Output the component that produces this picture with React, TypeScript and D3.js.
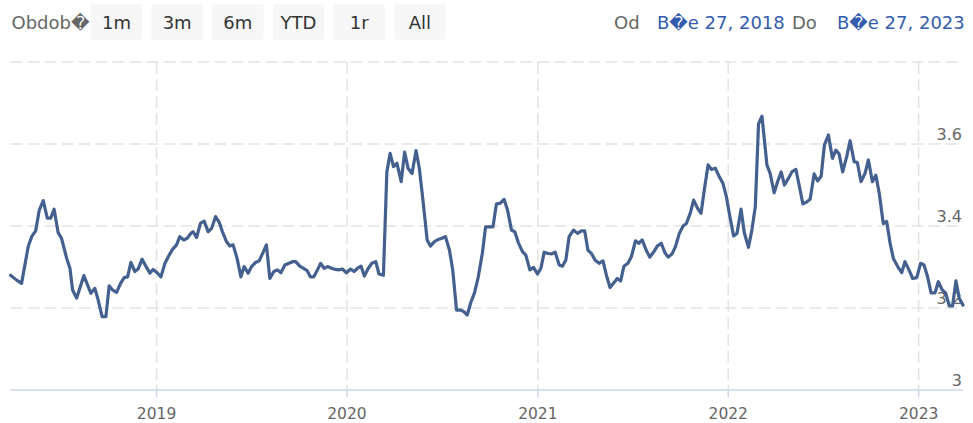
import React from 'react';
import * as d3 from 'd3';

const W = 973;
const H = 423;

const rangeLabel = 'Obdob\uFFFD';
const buttonLabels = ['1m', '3m', '6m', 'YTD', '1r', 'All'];
const fromLabel = 'Od';
const toLabel = 'Do';
const fromDateText = 'B\uFFFDe 27, 2018';
const toDateText = 'B\uFFFDe 27, 2023';

const yGridTicks = [3.2, 3.4, 3.6, 3.8];
const yLabelTicks = [3, 3.2, 3.4, 3.6];
const xTickYears = [2019, 2020, 2021, 2022, 2023];

// dates as decimal years
const dates = [
  2018.233, 2018.265, 2018.291, 2018.326, 2018.344, 2018.365, 2018.384, 2018.405, 2018.426, 2018.444,
  2018.462, 2018.483, 2018.501, 2018.528, 2018.545, 2018.559, 2018.580, 2018.597, 2018.618, 2018.638,
  2018.655, 2018.676, 2018.693, 2018.714, 2018.734, 2018.751, 2018.769, 2018.790, 2018.811, 2018.830,
  2018.848, 2018.865, 2018.886, 2018.903, 2018.924, 2018.944, 2018.965, 2018.982,
  2019.003, 2019.023, 2019.044, 2019.065, 2019.084, 2019.105, 2019.122, 2019.143, 2019.161, 2019.180,
  2019.192, 2019.210, 2019.231, 2019.250, 2019.271, 2019.289, 2019.310, 2019.329, 2019.346, 2019.367,
  2019.385, 2019.402, 2019.423, 2019.443, 2019.460, 2019.481, 2019.499, 2019.520, 2019.539, 2019.556,
  2019.577, 2019.595, 2019.616, 2019.635, 2019.653, 2019.674, 2019.695, 2019.714, 2019.731, 2019.752,
  2019.770, 2019.791, 2019.808, 2019.826, 2019.845, 2019.862, 2019.880, 2019.898, 2019.919, 2019.940,
  2019.957, 2019.976, 2019.997,
  2020.019, 2020.037, 2020.056, 2020.074, 2020.091, 2020.112, 2020.130, 2020.151, 2020.168, 2020.191,
  2020.209, 2020.226, 2020.244, 2020.262, 2020.284, 2020.302, 2020.320, 2020.341, 2020.362, 2020.379,
  2020.398, 2020.420, 2020.437, 2020.458, 2020.477, 2020.498, 2020.516, 2020.537, 2020.554, 2020.574,
  2020.595, 2020.612, 2020.630, 2020.647, 2020.668, 2020.688, 2020.709, 2020.726, 2020.744, 2020.765,
  2020.783, 2020.802, 2020.823, 2020.841, 2020.862, 2020.879, 2020.898, 2020.920, 2020.937, 2020.958,
  2020.977, 2020.998,
  2021.016, 2021.033, 2021.054, 2021.073, 2021.091, 2021.112, 2021.129, 2021.147, 2021.164, 2021.187,
  2021.208, 2021.229, 2021.246, 2021.263, 2021.283, 2021.300, 2021.321, 2021.342, 2021.360, 2021.379,
  2021.396, 2021.417, 2021.435, 2021.452, 2021.473, 2021.491, 2021.513, 2021.530, 2021.548, 2021.569,
  2021.588, 2021.609, 2021.627, 2021.648, 2021.667, 2021.684, 2021.705, 2021.723, 2021.743, 2021.763,
  2021.780, 2021.801, 2021.818, 2021.839, 2021.857, 2021.874, 2021.894, 2021.911, 2021.932, 2021.953,
  2021.972, 2021.990,
  2022.007, 2022.028, 2022.046, 2022.067, 2022.084, 2022.106, 2022.124, 2022.142, 2022.159, 2022.177,
  2022.203, 2022.220, 2022.241, 2022.259, 2022.278, 2022.295, 2022.316, 2022.334, 2022.355, 2022.372,
  2022.392, 2022.413, 2022.430, 2022.451, 2022.470, 2022.488, 2022.505, 2022.526, 2022.547, 2022.565,
  2022.582, 2022.601, 2022.622, 2022.640, 2022.661, 2022.678, 2022.697, 2022.718, 2022.736, 2022.757,
  2022.775, 2022.793, 2022.814, 2022.832, 2022.850, 2022.867, 2022.890, 2022.911, 2022.928, 2022.949,
  2022.969, 2022.990,
  2023.010, 2023.028, 2023.047, 2023.065, 2023.086, 2023.103, 2023.124, 2023.142, 2023.161, 2023.178,
  2023.196, 2023.213, 2023.233,
];

const values = [
  3.280, 3.268, 3.260, 3.350, 3.374, 3.388, 3.439, 3.462, 3.419, 3.419,
  3.441, 3.384, 3.370, 3.321, 3.297, 3.244, 3.224, 3.248, 3.279, 3.256,
  3.236, 3.248, 3.220, 3.179, 3.179, 3.254, 3.244, 3.238, 3.260, 3.274,
  3.276, 3.311, 3.289, 3.295, 3.319, 3.302, 3.285, 3.294,
  3.286, 3.276, 3.309, 3.328, 3.343, 3.354, 3.374, 3.366, 3.370, 3.382,
  3.386, 3.372, 3.407, 3.412, 3.386, 3.394, 3.423, 3.409, 3.386, 3.362,
  3.351, 3.354, 3.321, 3.276, 3.301, 3.285, 3.301, 3.311, 3.315, 3.332,
  3.354, 3.272, 3.289, 3.293, 3.286, 3.305, 3.309, 3.313, 3.313, 3.302,
  3.297, 3.291, 3.276, 3.276, 3.293, 3.309, 3.297, 3.301, 3.297, 3.294,
  3.293, 3.295, 3.286,
  3.295, 3.289, 3.297, 3.302, 3.278, 3.297, 3.309, 3.313, 3.283, 3.280,
  3.532, 3.577, 3.545, 3.553, 3.508, 3.580, 3.541, 3.528, 3.584, 3.541,
  3.463, 3.366, 3.351, 3.362, 3.367, 3.370, 3.374, 3.341, 3.293, 3.195,
  3.195, 3.191, 3.183, 3.211, 3.237, 3.276, 3.333, 3.398, 3.398, 3.398,
  3.454, 3.455, 3.465, 3.439, 3.390, 3.386, 3.359, 3.337, 3.329, 3.293,
  3.299, 3.283,
  3.297, 3.336, 3.333, 3.332, 3.336, 3.305, 3.302, 3.317, 3.374, 3.390,
  3.382, 3.388, 3.388, 3.341, 3.332, 3.317, 3.309, 3.315, 3.280, 3.250,
  3.260, 3.272, 3.266, 3.302, 3.309, 3.325, 3.364, 3.358, 3.366, 3.341,
  3.324, 3.337, 3.351, 3.358, 3.335, 3.324, 3.332, 3.350, 3.382, 3.400,
  3.406, 3.432, 3.463, 3.443, 3.431, 3.488, 3.549, 3.538, 3.541, 3.520,
  3.504, 3.472,
  3.427, 3.376, 3.382, 3.441, 3.384, 3.348, 3.390, 3.447, 3.649, 3.668,
  3.549, 3.528, 3.481, 3.508, 3.532, 3.500, 3.516, 3.532, 3.538, 3.500,
  3.454, 3.459, 3.465, 3.527, 3.510, 3.522, 3.598, 3.622, 3.565, 3.585,
  3.576, 3.532, 3.569, 3.608, 3.557, 3.555, 3.508, 3.528, 3.561, 3.508,
  3.524, 3.480, 3.406, 3.411, 3.358, 3.321, 3.301, 3.286, 3.313, 3.293,
  3.272, 3.274,
  3.309, 3.305, 3.276, 3.237, 3.237, 3.264, 3.244, 3.236, 3.205, 3.205,
  3.266, 3.224, 3.207,
];

const FONT = '"DejaVu Sans", Verdana, sans-serif';

function decToDate(d: number): Date {
  const y = Math.floor(d);
  const s = Date.UTC(y, 0, 1);
  const e = Date.UTC(y + 1, 0, 1);
  return new Date(s + (d - y) * (e - s));
}

export default function App() {
  const plotLeft = 10.5;
  const plotRight = 963;
  const plotTop = 62;
  const plotBottom = 390;

  const x = d3
    .scaleUtc()
    .domain([new Date(Date.UTC(2018, 2, 27)), new Date(Date.UTC(2023, 2, 27))])
    .range([plotLeft, plotRight]);
  const y = d3.scaleLinear().domain([3, 3.8]).range([plotBottom, plotTop]);

  const pts = dates.map((d, i) => ({ date: decToDate(d), v: values[i] }));
  const line = d3
    .line<{ date: Date; v: number }>()
    .x((p) => x(p.date))
    .y((p) => y(p.v));

  const btnX0 = 90.7;
  const btnStep = 60.7;
  const btnW = 51.5;

  return (
    <svg
      width={W}
      height={H}
      style={{ position: 'absolute', left: 0, top: 0, background: '#fff' }}
      fontFamily={FONT}
    >
      <rect x={0} y={0} width={W} height={H} fill="#ffffff" />
      {/* range selector */}
      <text x={11.5} y={29} fontSize={18} fill="#666666">
        {rangeLabel}
      </text>
      {buttonLabels.map((b, i) => (
        <g key={b}>
          <rect x={btnX0 + i * btnStep} y={4} width={btnW} height={36} rx={2} fill="#f7f7f7" />
          <text
            x={btnX0 + i * btnStep + btnW / 2}
            y={29}
            fontSize={18}
            fill="#333333"
            textAnchor="middle"
          >
            {b}
          </text>
        </g>
      ))}
      <text x={614} y={29} fontSize={18} fill="#666666">
        {fromLabel}
      </text>
      <text x={657} y={29} fontSize={18} fill="#335cad">
        {fromDateText}
      </text>
      <text x={792} y={29} fontSize={18} fill="#666666">
        {toLabel}
      </text>
      <text x={837} y={29} fontSize={18} fill="#335cad">
        {toDateText}
      </text>

      {/* grid */}
      {yGridTicks.map((t) => (
        <line
          key={'yg' + t}
          x1={plotLeft}
          x2={plotRight}
          y1={y(t)}
          y2={y(t)}
          stroke="#e3e3e3"
          strokeWidth={1.5}
          strokeDasharray="12,5"
        />
      ))}
      {xTickYears.map((yr) => {
        const xx = x(new Date(Date.UTC(yr, 0, 1)));
        return (
          <g key={'xg' + yr}>
            <line
              x1={xx}
              x2={xx}
              y1={plotTop}
              y2={plotBottom}
              stroke="#e3e3e3"
              strokeWidth={1.5}
              strokeDasharray="12,5"
            />
            <line x1={xx} x2={xx} y1={plotBottom} y2={plotBottom + 7} stroke="#ccd6eb" strokeWidth={1.5} />
            <text x={xx} y={419} fontSize={15.5} fill="#666666" textAnchor="middle">
              {String(yr)}
            </text>
          </g>
        );
      })}
      <line x1={plotLeft} x2={plotRight} y1={plotBottom} y2={plotBottom} stroke="#ccd6eb" strokeWidth={1.5} />

      {yLabelTicks.map((t) => (
        <text key={'yl' + t} x={962} y={y(t) - 4.5} fontSize={16} fill="#666666" textAnchor="end">
          {t === 3 ? '3' : t.toFixed(1)}
        </text>
      ))}

      <path
        d={line(pts) || ''}
        fill="none"
        stroke="#44608f"
        strokeWidth={3.2}
        strokeLinejoin="round"
        strokeLinecap="round"
      />
    </svg>
  );
}
